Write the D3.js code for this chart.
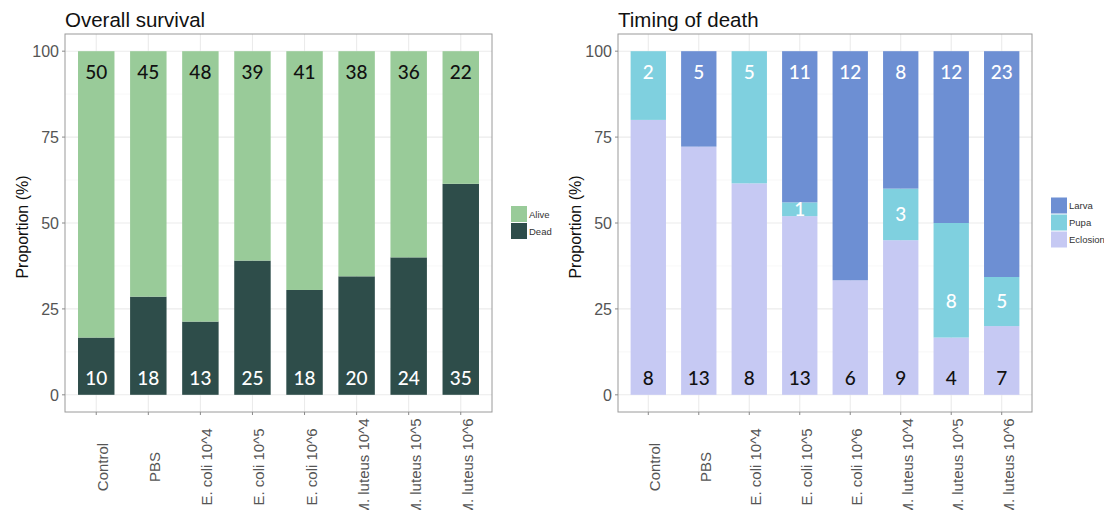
<!DOCTYPE html>
<html>
<head>
<meta charset="utf-8">
<script src="https://cdn.jsdelivr.net/npm/d3@7"></script>
<style>
  body { margin: 0; background: #fff; }
  text { font-family: "Liberation Sans", Arial, sans-serif; }
</style>
</head>
<body>
<svg id="chart" width="1104" height="510"></svg>
<script>
// Treatment groups (x axis)
const groups = ["Control", "PBS", "E. coli 10^4", "E. coli 10^5", "E. coli 10^6",
                "M. luteus 10^4", "M. luteus 10^5", "M. luteus 10^6"];

// Overall survival counts
const aliveCounts = [50, 45, 48, 39, 41, 38, 36, 22];
const deadCounts  = [10, 18, 13, 25, 18, 20, 24, 35];

// Stage at which the dead animals died
const larvaCounts    = [0, 5, 0, 11, 12, 8, 12, 23];
const pupaCounts     = [2, 0, 5, 1, 0, 3, 8, 5];
const eclosionCounts = [8, 13, 8, 13, 6, 9, 4, 7];

const yTicks = [0, 25, 50, 75, 100];

const svg = d3.select("#chart");

function drawPanel(opt) {
  const { left, right, top, bottom, title, series, legendOrder } = opt;

  const x = d3.scalePoint().domain(groups).range([left, right]).padding(0.6);
  const y = d3.scaleLinear().domain([-5, 105]).range([bottom, top]);
  const bw = x.step() * 0.7;

  const g = svg.append("g");

  // grid
  const minor = [12.5, 37.5, 62.5, 87.5];
  g.selectAll(".gmin").data(minor).join("line")
    .attr("x1", left).attr("x2", right)
    .attr("y1", d => y(d)).attr("y2", d => y(d))
    .attr("stroke", "#f4f4f4").attr("stroke-width", 0.6);
  g.selectAll(".gmaj").data(yTicks).join("line")
    .attr("x1", left).attr("x2", right)
    .attr("y1", d => y(d)).attr("y2", d => y(d))
    .attr("stroke", "#ebebeb").attr("stroke-width", 1.1);
  g.selectAll(".gx").data(groups).join("line")
    .attr("x1", d => x(d)).attr("x2", d => x(d))
    .attr("y1", top).attr("y2", bottom)
    .attr("stroke", "#ebebeb").attr("stroke-width", 1.1);

  // stacked proportions
  const rows = groups.map((grp, i) => {
    const total = d3.sum(series, s => s.values[i]);
    const r = { group: grp, total };
    series.forEach(s => { r[s.key] = s.values[i] / total * 100; r[s.key + "_n"] = s.values[i]; });
    return r;
  });
  const stacked = d3.stack().keys(series.map(s => s.key))(rows);

  stacked.forEach((layer, li) => {
    g.append("g").selectAll("rect").data(layer).join("rect")
      .attr("x", d => x(d.data.group) - bw / 2)
      .attr("width", bw)
      .attr("y", d => y(d[1]))
      .attr("height", d => Math.max(0, y(d[0]) - y(d[1])))
      .attr("fill", series[li].color);
  });

  // count labels
  const labelFont = "Lato, 'Open Sans', sans-serif";
  stacked.forEach((layer, li) => {
    const s = series[li];
    layer.forEach(d => {
      const n = d.data[s.key + "_n"];
      if (!n) return;
      const isTop = d[1] >= 99.999;
      const isBottom = d[0] <= 0.001;
      let cy;
      if (isTop) cy = y(100) + 21;
      else if (isBottom) cy = y(0) - 17;
      else cy = Math.max((y(d[0]) + y(d[1])) / 2, y(d[0]) - 36);
      g.append("text")
        .attr("x", x(d.data.group))
        .attr("y", cy)
        .attr("dy", "0.36em")
        .attr("text-anchor", "middle")
        .style("font-family", labelFont)
        .style("font-size", "19px")
        .style("font-weight", 500)
        .attr("fill", s.labelColor)
        .text(n);
    });
  });

  // panel border
  g.append("rect")
    .attr("x", left).attr("y", top)
    .attr("width", right - left).attr("height", bottom - top)
    .attr("fill", "none").attr("stroke", "#9a9a9a").attr("stroke-width", 1);

  // y axis
  g.selectAll(".yt").data(yTicks).join("line")
    .attr("x1", left - 3).attr("x2", left)
    .attr("y1", d => y(d)).attr("y2", d => y(d))
    .attr("stroke", "#8a8a8a");
  g.selectAll(".yl").data(yTicks).join("text")
    .attr("x", left - 6).attr("y", d => y(d)).attr("dy", "0.36em")
    .attr("text-anchor", "end")
    .style("font-size", "16px").attr("fill", "#555")
    .text(d => d);

  // x axis
  g.selectAll(".xt").data(groups).join("line")
    .attr("x1", d => x(d)).attr("x2", d => x(d))
    .attr("y1", bottom).attr("y2", bottom + 3)
    .attr("stroke", "#8a8a8a");
  g.selectAll(".xl").data(groups).join("text")
    .attr("transform", d => `translate(${x(d) + 12},467) rotate(-90)`)
    .attr("text-anchor", "middle")
    .style("font-size", "15px").attr("fill", "#555")
    .text(d => d);

  // axis title
  g.append("text")
    .attr("transform", `translate(${left - 37},227) rotate(-90)`)
    .attr("text-anchor", "middle")
    .style("font-size", "16px").attr("fill", "#111")
    .text("Proportion (%)");

  // panel title
  g.append("text")
    .attr("x", left).attr("y", 27)
    .style("font-size", "20.5px").attr("fill", "#111")
    .text(title);

  // legend
  const keySize = 17;
  const lx = right + 19;
  const ly = (top + bottom) / 2 - legendOrder.length * keySize / 2;
  legendOrder.forEach((key, i) => {
    const s = series.find(ss => ss.key === key);
    g.append("rect")
      .attr("x", lx).attr("y", ly + i * keySize)
      .attr("width", keySize - 1).attr("height", keySize - 1)
      .attr("fill", s.color);
    g.append("text")
      .attr("x", lx + keySize + 1).attr("y", ly + i * keySize + keySize / 2)
      .attr("dy", "0.35em")
      .style("font-size", "9.5px").attr("fill", "#333")
      .text(s.key);
  });
}

drawPanel({
  left: 65, right: 492, top: 34, bottom: 412,
  title: "Overall survival",
  series: [
    { key: "Dead",  values: deadCounts,  color: "#2e4d4a", labelColor: "#ffffff" },
    { key: "Alive", values: aliveCounts, color: "#99cb99", labelColor: "#111111" }
  ],
  legendOrder: ["Alive", "Dead"]
});

drawPanel({
  left: 618, right: 1032, top: 34, bottom: 412,
  title: "Timing of death",
  series: [
    { key: "Eclosion", values: eclosionCounts, color: "#c6c9f3", labelColor: "#111111" },
    { key: "Pupa",     values: pupaCounts,     color: "#7fd0df", labelColor: "#ffffff" },
    { key: "Larva",    values: larvaCounts,    color: "#6d8fd3", labelColor: "#ffffff" }
  ],
  legendOrder: ["Larva", "Pupa", "Eclosion"]
});
</script>
</body>
</html>
